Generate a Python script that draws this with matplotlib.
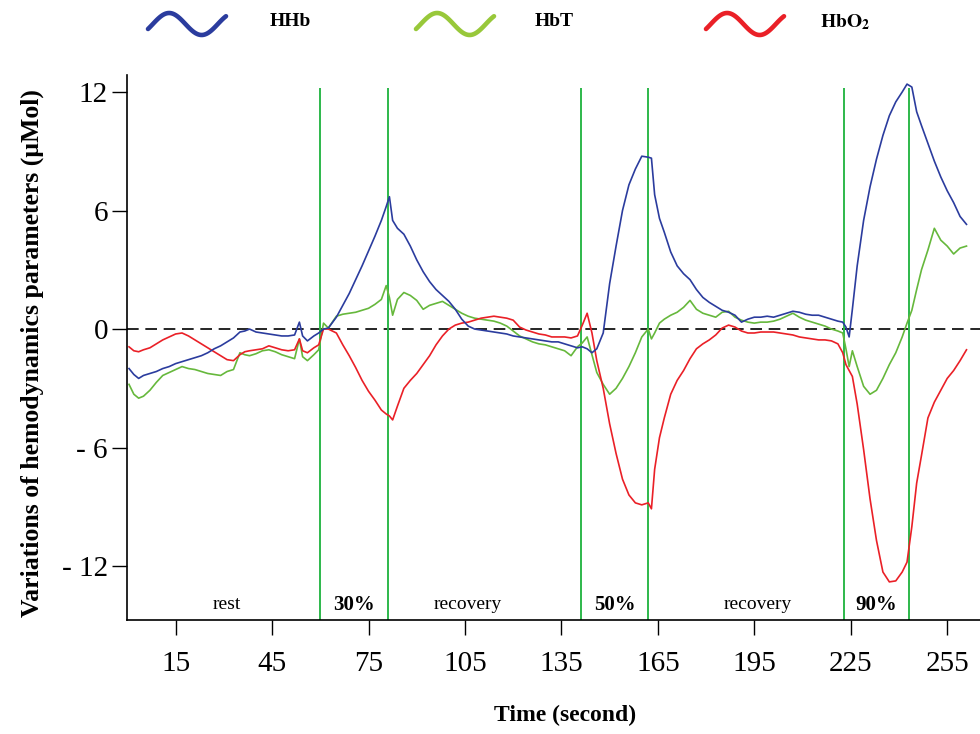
# -*- coding: UTF-8 -*-
import numpy as np
import matplotlib
matplotlib.use('Agg')
import matplotlib.pyplot as plt

# tempo (s)
TEMPO = [0.5, 2, 3.5, 5, 7, 9, 11, 13, 15, 17, 19, 21, 23, 25, 27, 29, 31, 33, 35, 36.5,
	38, 40, 42, 44, 46, 48, 50, 52, 53.5, 54.5, 56, 58, 59.5, 61, 62.5, 65, 67, 69, 71, 73,
	75, 77, 79, 80.5, 81.5, 82.5, 84, 86, 88, 90, 92, 94, 96, 98, 100, 102, 104, 106, 108, 110,
	112, 114, 116, 118, 120, 122, 124, 126, 128, 130, 132, 134, 136, 138, 140, 141.5, 143, 144.5, 146, 148,
	150, 152, 154, 156, 158, 160, 162, 163, 164, 165.5, 167, 169, 171, 173, 175, 177, 179, 181, 183, 185,
	187, 189, 191, 193, 195, 197, 199, 201, 203, 205, 207, 209, 211, 213, 215, 217, 219, 221, 222.5, 223.5,
	224.5, 225.5, 227, 229, 231, 233, 235, 237, 239, 241, 242.5, 244, 245.5, 247, 249, 251, 253, 255, 257, 259,
	261]

HHB = [-2.0, -2.3, -2.5, -2.35, -2.25, -2.15, -2.0, -1.9, -1.75, -1.65, -1.55, -1.45, -1.35, -1.2, -1.0, -0.85, -0.65, -0.45, -0.15, -0.1,
	0.0, -0.15, -0.2, -0.25, -0.3, -0.35, -0.35, -0.3, 0.35, -0.35, -0.6, -0.35, -0.2, 0.0, 0.05, 0.6, 1.2, 1.8, 2.5, 3.2,
	3.95, 4.7, 5.5, 6.2, 6.7, 5.5, 5.1, 4.8, 4.2, 3.5, 2.9, 2.4, 2.0, 1.7, 1.4, 1.0, 0.5, 0.15, 0.0, -0.05,
	-0.1, -0.15, -0.2, -0.25, -0.35, -0.4, -0.45, -0.5, -0.55, -0.6, -0.65, -0.65, -0.75, -0.85, -0.95, -0.9, -1.0, -1.2, -1.0, -0.2,
	2.3, 4.2, 6.0, 7.3, 8.1, 8.75, 8.7, 8.65, 6.8, 5.6, 4.9, 3.9, 3.2, 2.8, 2.5, 2.0, 1.6, 1.35, 1.15, 0.95,
	0.85, 0.7, 0.35, 0.5, 0.6, 0.6, 0.65, 0.6, 0.7, 0.8, 0.9, 0.85, 0.75, 0.7, 0.7, 0.6, 0.5, 0.4, 0.35, 0.1,
	-0.4, 1.0, 3.2, 5.5, 7.2, 8.6, 9.8, 10.8, 11.5, 12.0, 12.4, 12.25, 11.0, 10.3, 9.4, 8.5, 7.7, 7.0, 6.4, 5.7,
	5.3]

HBT = [-2.8, -3.3, -3.5, -3.4, -3.1, -2.7, -2.35, -2.2, -2.05, -1.9, -2.0, -2.05, -2.15, -2.25, -2.3, -2.35, -2.15, -2.05, -1.2, -1.3,
	-1.35, -1.25, -1.1, -1.05, -1.15, -1.3, -1.4, -1.5, -0.5, -1.4, -1.6, -1.3, -1.05, 0.3, 0.05, 0.65, 0.75, 0.8, 0.85, 0.95,
	1.05, 1.25, 1.5, 2.2, 1.6, 0.7, 1.5, 1.85, 1.7, 1.45, 1.0, 1.2, 1.3, 1.4, 1.2, 1.0, 0.8, 0.65, 0.55, 0.5,
	0.45, 0.4, 0.3, 0.15, -0.1, -0.35, -0.5, -0.65, -0.75, -0.8, -0.9, -1.0, -1.1, -1.35, -0.9, -0.7, -0.4, -1.3, -2.2, -2.8,
	-3.3, -3.0, -2.5, -1.9, -1.2, -0.4, 0.0, -0.5, -0.2, 0.3, 0.5, 0.7, 0.85, 1.1, 1.45, 1.0, 0.8, 0.7, 0.6, 0.85,
	0.9, 0.6, 0.45, 0.35, 0.3, 0.35, 0.35, 0.4, 0.5, 0.65, 0.8, 0.6, 0.45, 0.35, 0.25, 0.15, 0.0, -0.1, -0.2, -1.0,
	-1.9, -1.1, -1.9, -2.9, -3.3, -3.1, -2.5, -1.8, -1.2, -0.4, 0.3, 0.95, 2.0, 3.0, 4.0, 5.1, 4.5, 4.2, 3.8, 4.1,
	4.2]

HBO2 = [-0.9, -1.1, -1.15, -1.05, -0.95, -0.75, -0.55, -0.4, -0.25, -0.2, -0.35, -0.55, -0.75, -0.95, -1.15, -1.35, -1.55, -1.6, -1.3, -1.15,
	-1.1, -1.05, -1.0, -0.85, -0.95, -1.05, -1.1, -1.05, -0.5, -1.1, -1.2, -0.95, -0.8, 0.0, 0.0, -0.2, -0.8, -1.35, -1.95, -2.6,
	-3.15, -3.6, -4.1, -4.3, -4.4, -4.6, -3.9, -3.0, -2.6, -2.25, -1.8, -1.35, -0.8, -0.35, 0.0, 0.2, 0.3, 0.35, 0.45, 0.55,
	0.6, 0.65, 0.6, 0.55, 0.45, 0.1, -0.05, -0.15, -0.25, -0.3, -0.4, -0.4, -0.4, -0.45, -0.35, 0.2, 0.8, -0.2, -1.6, -3.0,
	-4.8, -6.3, -7.6, -8.4, -8.8, -8.9, -8.8, -9.1, -7.1, -5.5, -4.5, -3.3, -2.6, -2.1, -1.5, -1.0, -0.75, -0.55, -0.3, 0.05,
	0.2, 0.1, -0.1, -0.2, -0.2, -0.15, -0.15, -0.15, -0.2, -0.25, -0.3, -0.4, -0.45, -0.5, -0.55, -0.55, -0.6, -0.75, -1.2, -1.8,
	-2.1, -2.4, -3.8, -6.1, -8.6, -10.7, -12.3, -12.8, -12.75, -12.3, -11.8, -10.0, -7.8, -6.4, -4.5, -3.7, -3.1, -2.5, -2.1, -1.6,
	-1.05]

# limites das fases (s)
FASES = [60, 81, 141, 162, 223, 243]
FASES_TXT = ['rest', '30%', 'recovery', '50%', 'recovery', '90%']
FASES_POS = [31, 70.5, 106, 151.5, 196, 233]
FASES_BOLD = [False, True, False, True, False, True]

XTICKS = [15, 45, 75, 105, 135, 165, 195, 225, 255]
YTICKS = [12, 6, 0, -6, -12]
YTICKLABELS = ['12', '6', '0', '- 6', '- 12']

LABEL = {0: 'HHb', 1: 'HbT', 2: r'$\mathbf{HbO_2}$'}
COLORS = {0: '#2b3c9e', 1: '#66b83c', 2: '#ea2027'}
LEG_COLORS = {0: '#2b3c9e', 1: '#98c83a', 2: '#ea2027'}
LINHA_FASE = '#2db84b'

plt.rcParams['font.family'] = ['Liberation Serif', 'DejaVu Serif']
plt.rcParams['mathtext.fontset'] = 'stix'

tick_size = 21
label_size = 18.5


def plot_hemodinamica():

	fig = plt.figure(figsize=(9.8, 7.34), dpi=100)
	ax = fig.add_axes([0.13, 0.1553, 0.87, 0.7425])

	ax.axhline(0, color='k', linestyle=(0, (7, 4)), linewidth=1.2, zorder=1)

	ymin, ymax = -14.73, 12.86
	ax.vlines(FASES, ymin, 12.2, color=LINHA_FASE, linewidth=1.4, zorder=2)

	series = [HHB, HBT, HBO2]
	for i in (1, 2, 0):
		ax.plot(TEMPO, series[i], color=COLORS[i], linewidth=1.2, zorder=3)

	for txt, pos, bold in zip(FASES_TXT, FASES_POS, FASES_BOLD):
		ax.text(pos, -13.95, txt, ha='center', va='center',
			fontsize=15 if bold else 14, fontweight='bold' if bold else 'normal')

	ax.set_xlim(0, 265.2)
	ax.set_ylim(ymin, ymax)

	ax.set_xticks(XTICKS)
	ax.set_xticklabels([str(x) for x in XTICKS], fontsize=tick_size)
	ax.set_yticks(YTICKS)
	ax.set_yticklabels(YTICKLABELS, fontsize=tick_size)
	ax.tick_params(axis='both', direction='out', length=11, width=1, color='k')
	ax.tick_params(axis='x', pad=11)
	ax.tick_params(axis='y', pad=3)

	for s in ('top', 'right'):
		ax.spines[s].set_visible(False)
	for s in ('left', 'bottom'):
		ax.spines[s].set_linewidth(1.2)

	ax.set_xlabel('Time (second)', fontsize=17, fontweight='bold')
	ax.xaxis.set_label_coords(0.513, -0.155)
	ax.set_ylabel('Variations of hemodynamics parameters (\u03bcMol)', fontsize=label_size, fontweight='bold')
	ax.yaxis.set_label_coords(-0.098, 0.49)

	# legenda desenhada a mao, em pixels da figura
	leg = fig.add_axes([0, 0, 1, 1])
	leg.set_xlim(0, 980)
	leg.set_ylim(734, 0)
	leg.axis('off')
	fase = np.linspace(-0.15 * np.pi, 2.25 * np.pi, 60)
	onda = np.sin(fase)
	u = (fase - fase[0]) / (fase[-1] - fase[0])
	for i, (x0, xt) in enumerate([(148, 270), (416, 535), (706, 820)]):
		leg.plot(x0 + 78 * u, 24 - 11 * onda, color=LEG_COLORS[i], linewidth=3.3, solid_capstyle='round')
		leg.text(xt, 22, LABEL[i], fontsize=14, fontweight='bold', va='center', ha='left')

	fig.savefig('out.png', dpi=100)
	plt.close()


if __name__ == '__main__':
	plot_hemodinamica()
